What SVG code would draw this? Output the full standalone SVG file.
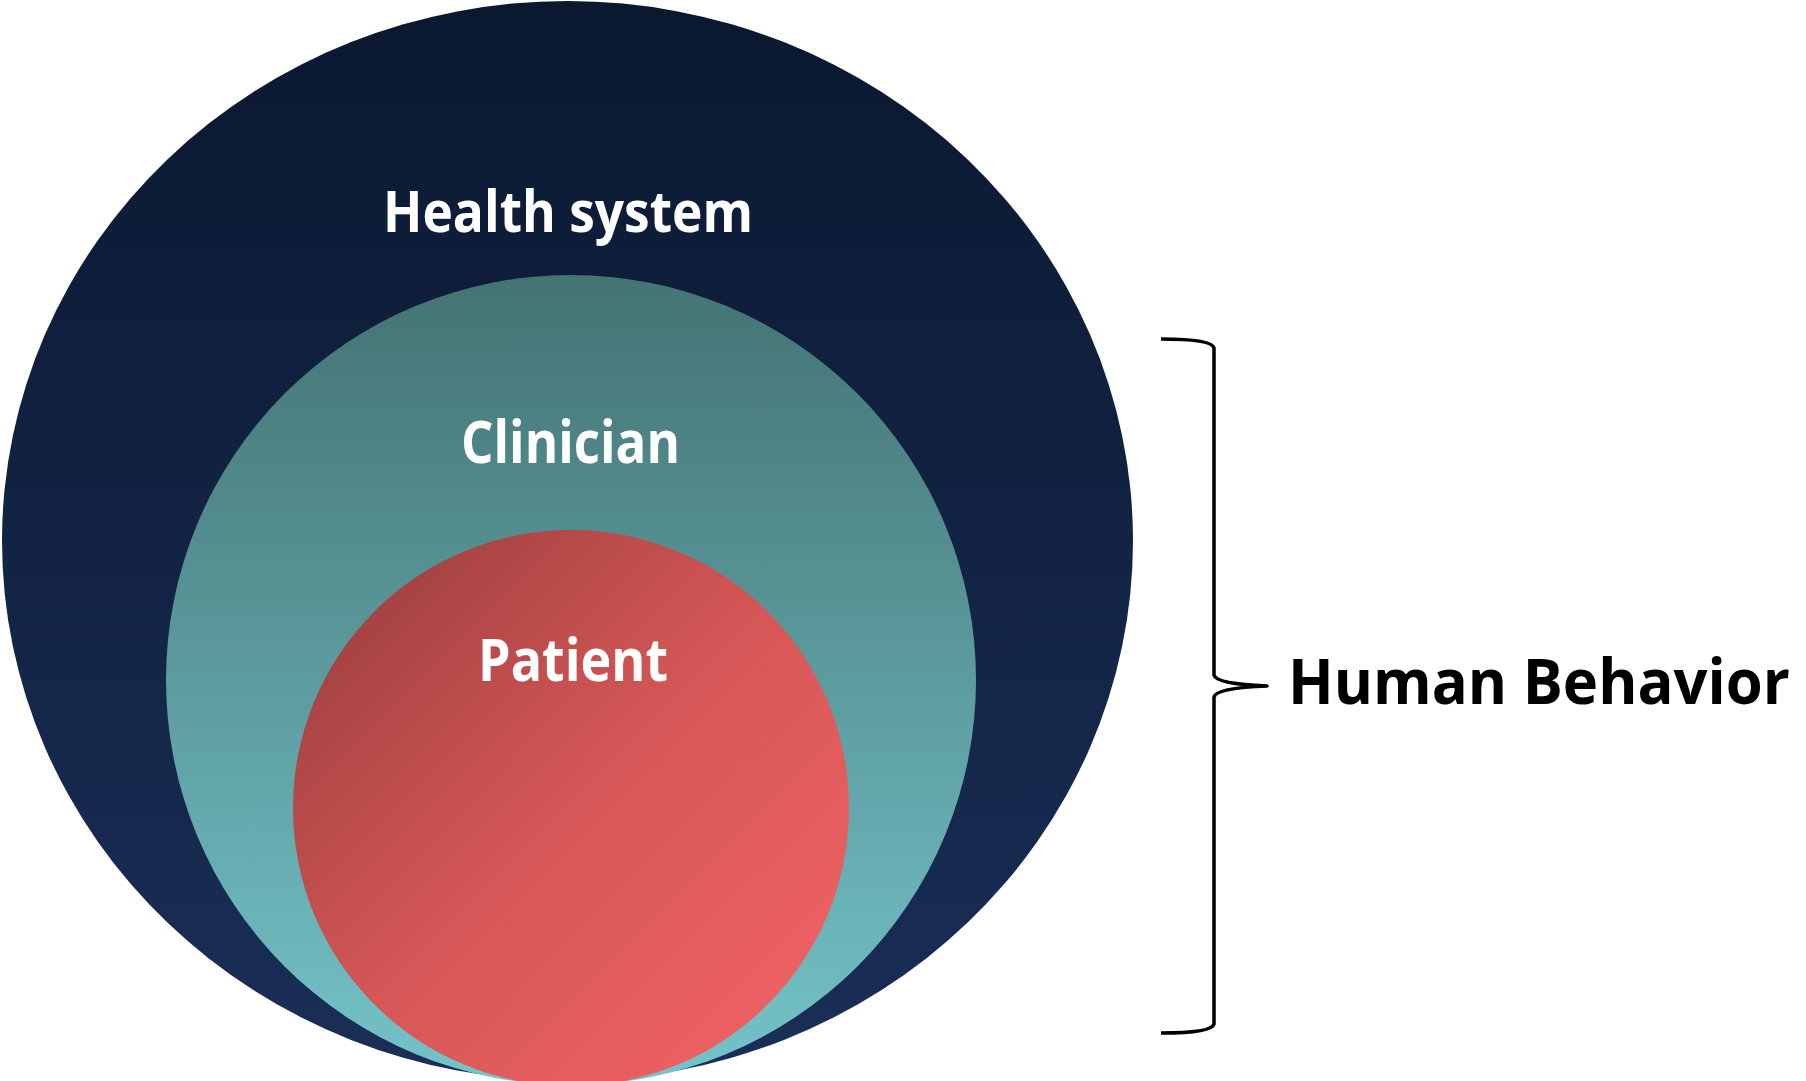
<svg xmlns="http://www.w3.org/2000/svg" width="1806" height="1081" viewBox="0 0 1806 1081">
  <style>
    .lbl { font-family: "Open Sans", "Liberation Sans", sans-serif; font-weight: bold; fill: #ffffff; text-anchor: start; }
    .side { font-family: "Open Sans", "Liberation Sans", sans-serif; font-weight: bold; fill: #000000; }
    .brace { fill: none; stroke: #000000; stroke-width: 3.5; stroke-linejoin: round; }
  </style>
  <defs>
    <linearGradient id="gOuter" x1="0" y1="0" x2="0" y2="1">
      <stop offset="0" stop-color="#0a1830"/>
      <stop offset="1" stop-color="#1a2e57"/>
    </linearGradient>
    <linearGradient id="gMid" x1="0" y1="0" x2="0" y2="1">
      <stop offset="0" stop-color="#447373"/>
      <stop offset="1" stop-color="#74c4ca"/>
    </linearGradient>
    <linearGradient id="gInner" x1="0.15" y1="0.15" x2="0.85" y2="0.85">
      <stop offset="0" stop-color="#a84343"/>
      <stop offset="0.5" stop-color="#d65757"/>
      <stop offset="1" stop-color="#ec6062"/>
    </linearGradient>
  </defs>
  <rect width="1806" height="1081" fill="#ffffff"/>
  <g id="health-system">
    <ellipse cx="567.5" cy="541" rx="565.5" ry="540" fill="url(#gOuter)"/>
    <text class="lbl" x="383" y="232" font-size="58" textLength="370" lengthAdjust="spacingAndGlyphs">Health system</text>
  </g>
  <g id="clinician">
    <circle cx="571" cy="680" r="405" fill="url(#gMid)"/>
    <text class="lbl" x="461" y="463" font-size="59" textLength="219" lengthAdjust="spacingAndGlyphs">Clinician</text>
  </g>
  <g id="patient">
    <circle cx="571" cy="808" r="278" fill="url(#gInner)"/>
    <text class="lbl" x="478" y="681" font-size="59" textLength="190" lengthAdjust="spacingAndGlyphs">Patient</text>
  </g>
  <g id="connectors">
    <path class="brace" d="M1161,339 Q1212,339 1214,348 L1214,675 Q1216,684 1267,686 Q1216,688 1214,697 L1214,1024 Q1212,1033 1161,1033"/>
  </g>
  <g id="human-behavior">
    <text class="side" x="1288" y="704" font-size="62" textLength="502" lengthAdjust="spacingAndGlyphs">Human Behavior</text>
  </g>
</svg>
